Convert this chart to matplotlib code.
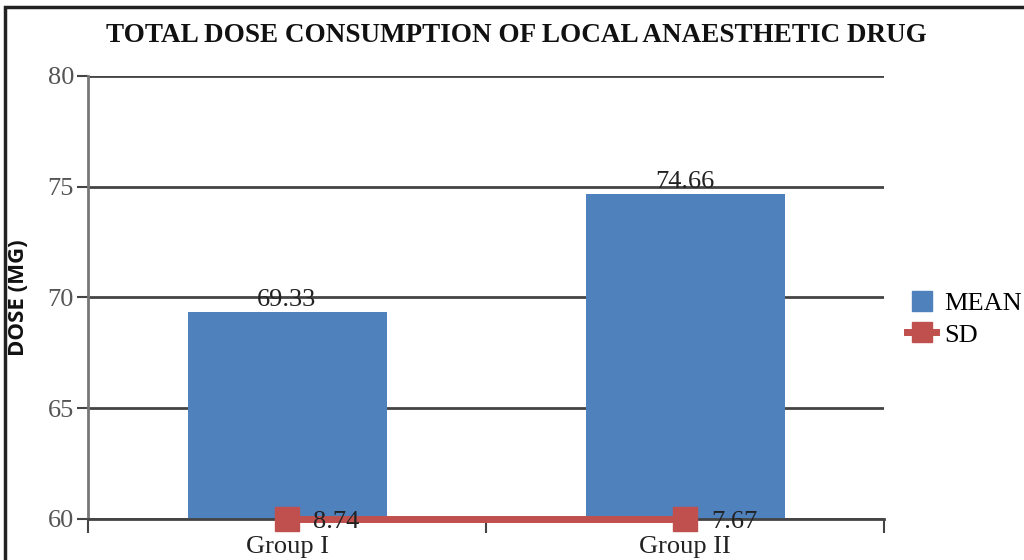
import numpy as np
import matplotlib
matplotlib.use("Agg")
import matplotlib.pyplot as plt
from matplotlib.patches import Rectangle
from matplotlib.lines import Line2D

groups = ["Group I", "Group II"]
mean_dose = [69.33, 74.66]
sd_dose = [8.74, 7.67]
y_ticks = [60, 65, 70, 75, 80]

serif = ["Liberation Serif", "DejaVu Serif"]
blue = "#4f81bd"
red = "#c0504d"

fig = plt.figure(figsize=(10.24, 5.6), dpi=100)
fig.patch.set_facecolor("white")
# outer frame of the chart area
fig.add_artist(Rectangle((0.005, -0.05), 1.1, 1.037, transform=fig.transFigure,
                         fill=False, edgecolor="#222222", linewidth=2.5))

ax = fig.add_axes([88 / 1024, 1 - 519 / 560, (884 - 88) / 1024, (519 - 76) / 560])
x = np.arange(len(groups))
ax.set_xlim(-0.5, 1.5)
ax.set_ylim(y_ticks[0], y_ticks[-1])

ax.bar(x, np.array(mean_dose) - y_ticks[0], bottom=y_ticks[0], width=0.5,
       color=blue, zorder=2)
for xi, v in zip(x, mean_dose):
    ax.annotate(f"{v:.2f}", (xi, v), xytext=(0, 9), textcoords="offset points",
                ha="center", va="center", fontsize=19, family=serif,
                color="#222222", zorder=4)

# SD values lie below the axis floor, so they sit on the baseline
sd_plot = np.clip(sd_dose, y_ticks[0], None)
sd_line, = ax.plot(x, sd_plot, color=red, linewidth=5, marker="s", markersize=17,
                   clip_on=False, zorder=3)
for xi, yv, v in zip(x, sd_plot, sd_dose):
    ax.annotate(f"{v:.2f}", (xi, yv), xytext=(19, -2), textcoords="offset points",
                ha="left", va="center", fontsize=19, family=serif,
                color="#222222", zorder=4)

ax.set_yticks(y_ticks)
ax.yaxis.grid(True, color="#444444", linewidth=2)
ax.set_axisbelow(True)
ax.set_xticks([-0.5, 0.5, 1.5], minor=False)
ax.set_xticklabels([])
ax.set_xticks(x, minor=True)
ax.set_xticklabels(groups, minor=True)
ax.tick_params(axis="x", which="major", length=10, width=1.5, color="#444444")
ax.tick_params(axis="x", which="minor", length=0, pad=12, labelsize=19,
               labelcolor="#222222")
ax.tick_params(axis="y", length=8, width=1.5, color="#444444", labelsize=19,
               labelcolor="#555555", pad=2)
for lab in ax.get_xticklabels(minor=True) + ax.get_yticklabels():
    lab.set_family(serif)

for s in ["top", "right"]:
    ax.spines[s].set_visible(False)
ax.spines["left"].set_color("#777777")
ax.spines["left"].set_linewidth(2)
ax.spines["bottom"].set_color("#444444")
ax.spines["bottom"].set_linewidth(2)

fig.text(19 / 1024, 1 - 298 / 560, "DOSE (MG)", rotation=90, ha="center",
         va="center", fontsize=16, fontweight="bold",
         family=["Open Sans", "DejaVu Sans"], color="#111111")

fig.text(0.504, 1 - 36 / 560, "TOTAL DOSE CONSUMPTION OF LOCAL ANAESTHETIC DRUG",
         ha="center", va="center", fontsize=19.5, fontweight="bold", family=serif,
         color="#111111")

mean_handle = Line2D([], [], marker="s", linestyle="none", color=blue,
                     markersize=14)
sd_handle = Line2D([], [], marker="s", color=red, linewidth=5, markersize=15)
fig.legend(handles=[mean_handle, sd_handle], labels=["MEAN", "SD"],
           loc="center left", bbox_to_anchor=(0.886, 0.43), frameon=False,
           prop={"family": serif, "size": 19}, handlelength=1.1,
           handletextpad=0.3, labelspacing=0.3, borderpad=0, borderaxespad=0)

fig.savefig("out.png", dpi=100, facecolor="white")
